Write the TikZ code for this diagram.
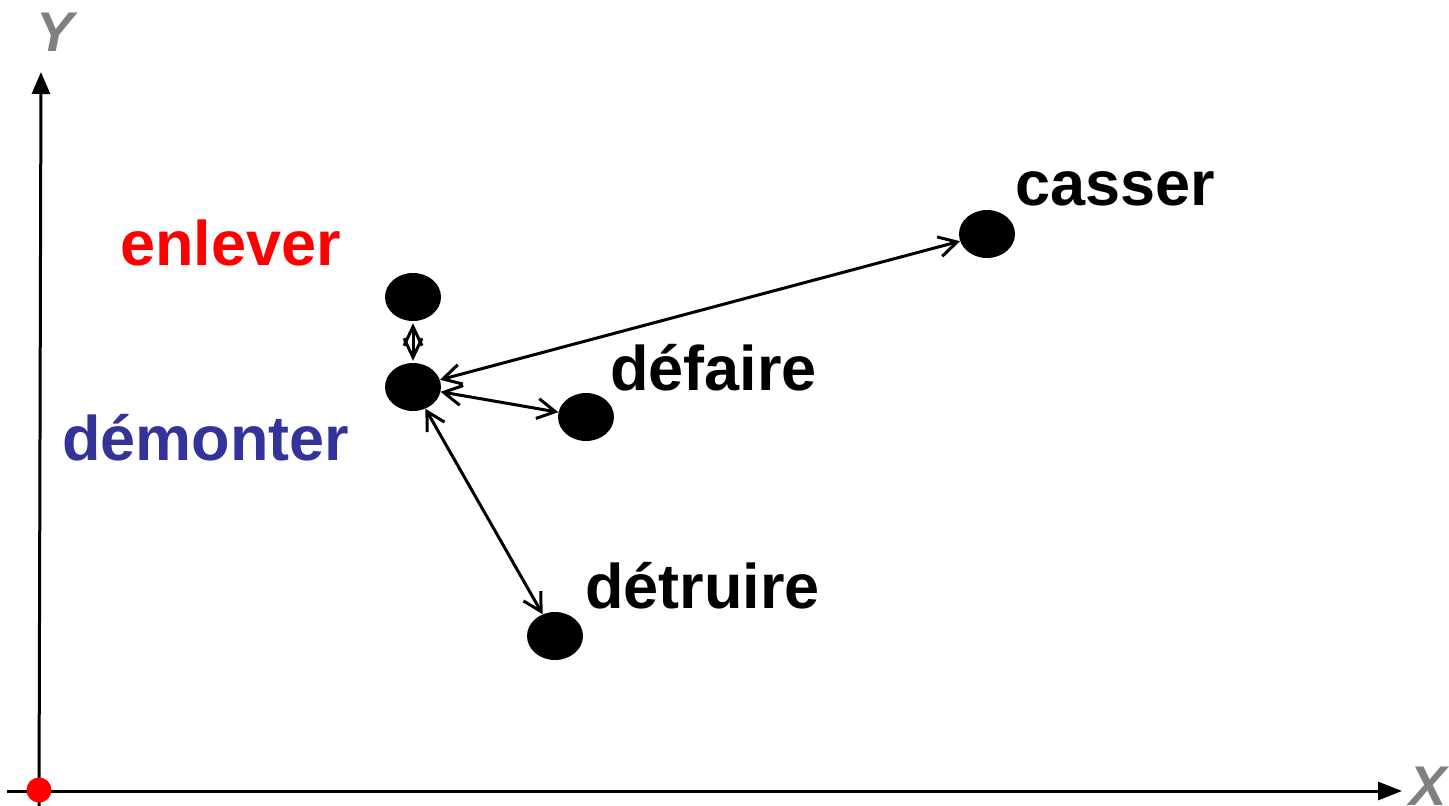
\documentclass[tikz,border=0pt]{standalone}
\usepackage{fontspec}
\setmainfont{Liberation Sans}
\usetikzlibrary{arrows.meta,shapes.geometric}
\definecolor{demblue}{RGB}{51,51,153}
\definecolor{axgray}{RGB}{128,128,128}
\tikzset{
  dot/.style={ellipse,fill=black,minimum width=56pt,minimum height=48pt,inner sep=0pt},
  word/.style={anchor=base west,inner sep=0pt,font=\fontsize{63}{70}\selectfont\bfseries},
  axlabel/.style={inner sep=0pt,text=axgray,font=\fontsize{56}{60}\selectfont\bfseries\itshape},
  axisline/.style={line width=3pt},
  linkarrow/.style={line width=3pt,arrows={Straight Barb[length=18pt,width=20pt]-Straight Barb[length=18pt,width=20pt]}},
  diamarrow/.style={line width=3pt,shorten <=2pt,shorten >=2pt,arrows={Straight Barb[length=19pt,width=18pt]-Straight Barb[length=19pt,width=18pt]}}
}
\begin{document}
\begin{tikzpicture}[x=1pt,y=-1pt]
\useasboundingbox (0,0) rectangle (1449,806);
% axes
\coordinate (ybot) at (39,806);
\coordinate (ytop) at (41,72);
\coordinate (xl) at (7,791);
\coordinate (xr) at (1402,791);
\draw[axisline,-{Triangle[length=22pt,width=18pt]}] (ybot) -- (ytop);
\draw[axisline,-{Triangle[length=24pt,width=18pt]}] (xl) -- (xr);
\node[circle,fill=red,minimum size=25pt,inner sep=0pt] (origin) at (39,790) {};
\node[axlabel] (ylab) at (55,32) {Y};
\node[axlabel] (xlab) at (1428,786) {X};
% dots
\node[dot] (enl) at (413,297) {};
\node[dot] (dem) at (413,387) {};
\node[dot] (def) at (586,417) {};
\node[dot] (det) at (555,636) {};
\node[dot] (cas) at (987,234) {};
% labels
\node[word] (tcas) at (1015,205) {casser};
\node[word,text=red] (tenl) at (120,265) {enlever};
\node[word] (tdef) at (610,390) {défaire};
\node[word,text=demblue] (tdem) at (62,460) {démonter};
\node[word] (tdet) at (585,608) {détruire};
% connectors
\draw[diamarrow] (enl) -- (dem);
\draw[linkarrow] (dem) -- (cas);
\draw[linkarrow] (dem) -- (def);
\draw[linkarrow] (dem) -- (det);
\end{tikzpicture}
\end{document}
